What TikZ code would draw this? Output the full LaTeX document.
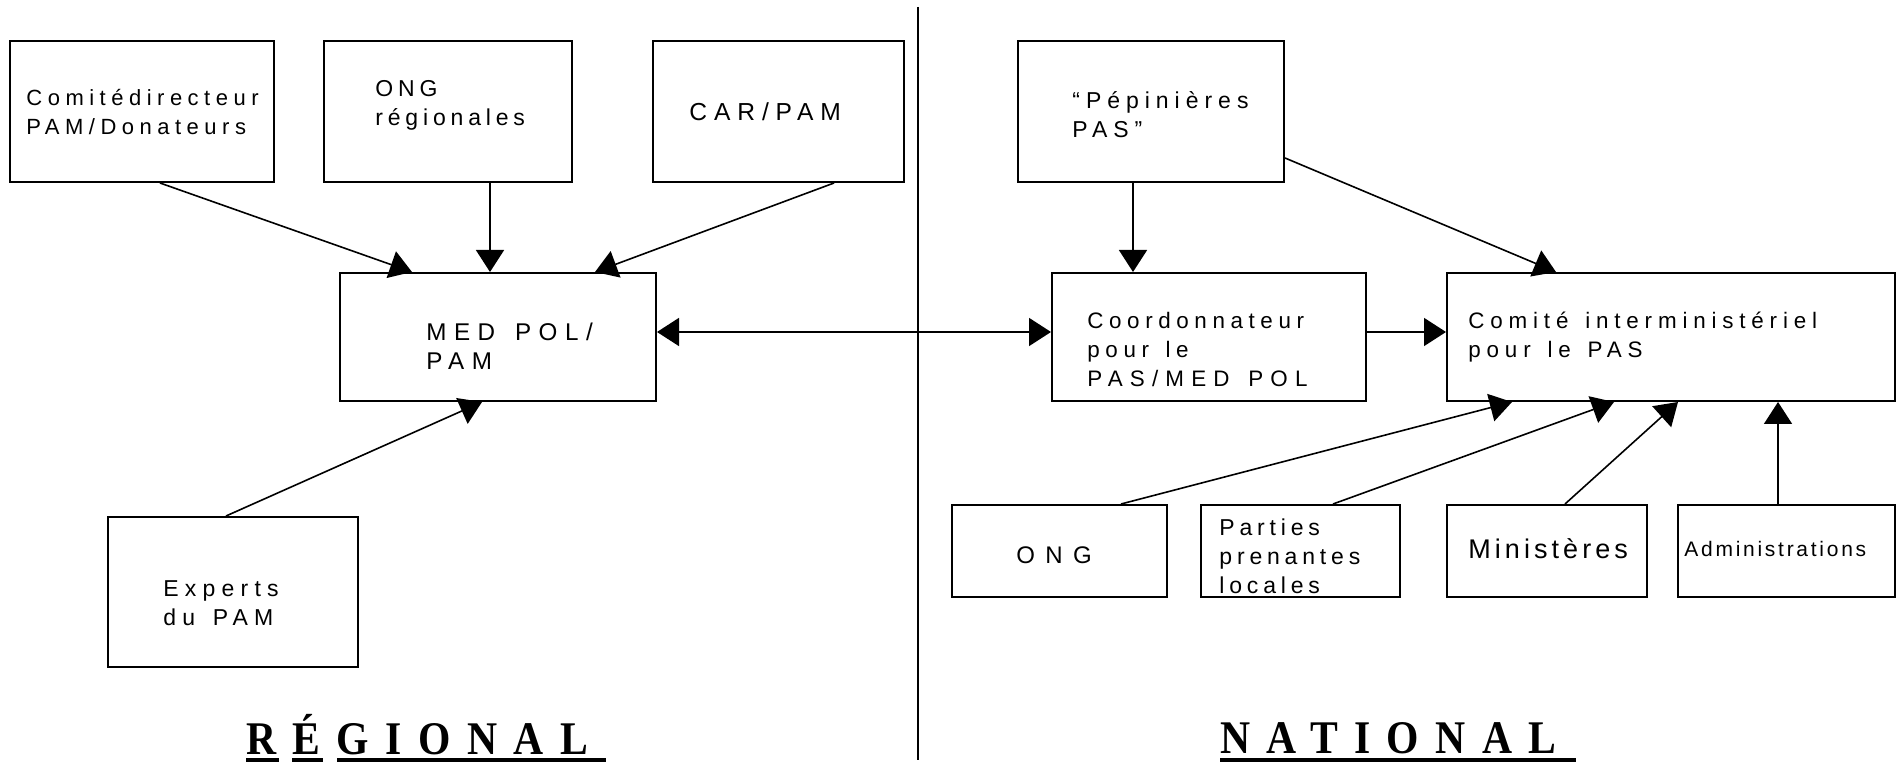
\documentclass[tikz,border=0pt]{standalone}
\usepackage{fontspec}
\setmainfont{Liberation Sans}
\newfontfamily\boitefont[WordSpace=1.4]{Liberation Sans}
\newfontfamily\titrefont[FakeStretch=0.89,LetterSpace=35]{Liberation Serif}
\usetikzlibrary{arrows.meta}
\newcommand\haut{\rule{0pt}{12pt}}
% taille / espacement des lettres
\newcommand\police[2]{\boitefont\fontsize{#1}{14.5}\selectfont\addfontfeature{LetterSpace=#2}}

\begin{document}
\begin{tikzpicture}[x=0.5pt,y=-0.5pt,
  bloc/.style={draw,line width=1pt,inner sep=0pt},
  txt/.style={anchor=north west,inner sep=0pt,align=left,font=\police{11.5}{21}},
  pointe/.tip={Triangle[length=11pt,width=14pt]},
  fleche/.style={line width=0.8pt,-pointe},
  titre/.style={anchor=base west,inner sep=0pt,
    font=\titrefont\bfseries\fontsize{23.4}{28}\selectfont}]
\useasboundingbox (0,0) rectangle (1904,763);
% boites : nom/x1/y1/x2/y2
\foreach \n/\a/\b/\c/\d in {cd/10/41/274/182, onr/324/41/572/182, car/653/41/904/182,
    mp/340/273/656/401, exp/108/517/358/667, pep/1018/41/1284/182,
    coord/1052/273/1366/401, ci/1447/273/1895/401, ong/952/505/1167/597,
    ppl/1201/505/1400/597, min/1447/505/1647/597, adm/1678/505/1895/597}
  { \node[bloc,minimum width=(\c-\a)*0.5pt,minimum height=(\d-\b)*0.5pt]
      (\n) at ({(\a+\c)/2},{(\b+\d)/2}) {}; }
% separation regional / national
\draw[line width=1pt] (918,7) coordinate (haut) -- (918,760) coordinate (bas);
% textes
\node[txt,font=\police{11}{25}] (t-cd) at (26,81) {\haut Comitédirecteur\\PAM/Donateurs};
\node[txt] (t-onr) at (375,72) {\haut ONG\\régionales};
\node[txt,font=\police{12.3}{28}] (t-car) at (689,96) {\haut CAR/PAM};
\node[txt,font=\police{12.1}{31}] (t-mp) at (426,316) {\haut MED POL/\\PAM};
\node[txt,font=\police{11.5}{27}] (t-exp) at (163,572) {\haut Experts\\du PAM};
\node[txt,font=\police{11.5}{26}] (t-pep) at (1072,84) {\haut “Pépinières\\PAS”};
\node[txt,font=\police{11.2}{25}] (t-coord) at (1087,304)
  {\haut Coordonnateur\\pour le\\{\addfontfeature{LetterSpace=32}PAS/MED POL}};
\node[txt,font=\police{11.2}{26}] (t-ci) at (1468,304) {\haut Comité interministériel\\pour le PAS};
\node[txt,font=\police{12}{43}] (t-ong) at (1016,539) {\haut ONG};
\node[txt] (t-ppl) at (1219,511) {\haut Parties\\prenantes\\locales};
\node[txt,font=\police{13.5}{15}] (t-min) at (1468,534) {\haut Ministères};
\node[txt,font=\police{10.5}{13}] (t-adm) at (1684,532) {\haut Administrations};
% fleches
\draw[fleche] (160,0 |- cd.south) -- (412,0 |- mp.north);
\draw[fleche] (490,0 |- onr.south) -- (490,0 |- mp.north);
\draw[fleche] (834,0 |- car.south) -- (595,0 |- mp.north);
\draw[fleche] (226,0 |- exp.north) -- (482,0 |- mp.south);
\draw[fleche,pointe-pointe] (mp.east |- 0,332) -- (coord.west |- 0,332);
\draw[fleche] (1133,0 |- pep.south) -- (1133,0 |- coord.north);
\draw[fleche] (pep.east |- 0,158) -- (1556,0 |- ci.north);
\draw[fleche] (coord.east |- 0,332) -- (ci.west |- 0,332);
\draw[fleche] (1121,0 |- ong.north) -- (1512,0 |- ci.south);
\draw[fleche] (1333,0 |- ppl.north) -- (1614,0 |- ci.south);
\draw[fleche] (1565,0 |- min.north) -- (1678,0 |- ci.south);
\draw[fleche] (1778,0 |- adm.north) -- (1778,0 |- ci.south);
% titres soulignes
\node[titre] (reg) at (246,754) {RÉGIONAL};
\node[titre] (nat) at (1220,753) {NATIONAL};
\foreach \a/\b in {246/279, 292/323, 337/606, 1220/1576}
  { \fill (\a,758) rectangle (\b,762); }
\end{tikzpicture}
\end{document}
